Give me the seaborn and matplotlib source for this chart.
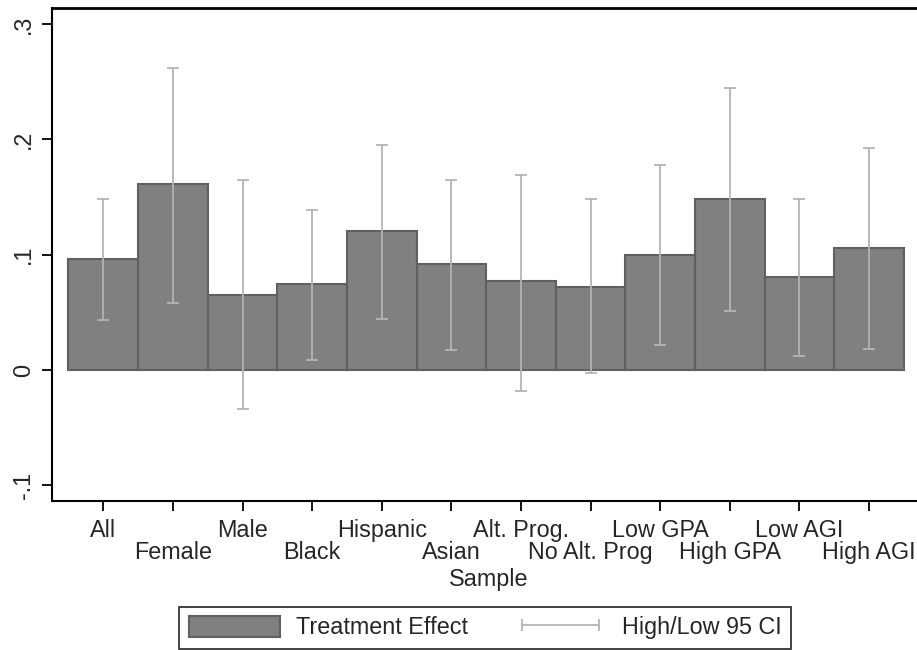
import matplotlib
matplotlib.use("Agg")
import matplotlib.pyplot as plt
import matplotlib.transforms as mtransforms
from matplotlib.patches import Patch
from matplotlib.lines import Line2D
import pandas as pd
import seaborn as sns

# values
groups = ["All", "Female", "Male", "Black", "Hispanic", "Asian",
          "Alt. Prog.", "No Alt. Prog", "Low GPA", "High GPA", "Low AGI", "High AGI"]
effect = [0.096, 0.161, 0.065, 0.075, 0.121, 0.092,
          0.077, 0.072, 0.100, 0.148, 0.081, 0.106]
ci_high = [0.148, 0.262, 0.165, 0.139, 0.195, 0.165,
           0.169, 0.148, 0.178, 0.245, 0.148, 0.193]
ci_low = [0.043, 0.058, -0.034, 0.009, 0.044, 0.017,
          -0.018, -0.003, 0.022, 0.051, 0.012, 0.018]
yticks = [-0.1, 0, 0.1, 0.2, 0.3]
ytick_labels = ["-.1", "0", ".1", ".2", ".3"]

df = pd.DataFrame({"group": groups, "effect": effect, "hi": ci_high, "lo": ci_low})

sns.set_theme(style="ticks")
plt.rcParams["font.family"] = ["Liberation Sans", "DejaVu Sans"]

bar_col = "#808080"
edge_col = "#606060"
ci_col = "#b4b4b4"
fs = 16.8

fig = plt.figure(figsize=(9.17, 6.5), dpi=100)
ax = fig.add_axes([52 / 917, (650 - 501) / 650, 1 - 52 / 917 + 0.01, (501 - 8) / 650])

sns.barplot(data=df, x="group", y="effect", color=bar_col, width=1.0,
            edgecolor=edge_col, linewidth=1.5, saturation=1, ax=ax)
for p in ax.patches:
    p.set_facecolor(bar_col)

pos = list(range(len(groups)))
mid = [(h + l) / 2 for h, l in zip(df["hi"], df["lo"])]
half = [(h - l) / 2 for h, l in zip(df["hi"], df["lo"])]
ax.errorbar(pos, mid, yerr=half, fmt="none", ecolor=ci_col, elinewidth=1.3,
            capsize=4, capthick=1.3, zorder=5)

ax.set_ylim(-0.1136, 0.314)
ax.set_xlim(-0.737, 11.82)
ax.set_yticks(yticks)
ax.set_yticklabels(ytick_labels, rotation=90, va="center", fontsize=fs)
ax.set_xticks(pos)
ax.set_xticklabels(groups, fontsize=fs)
ax.tick_params(axis="both", direction="out", length=7, width=1.3, color="black")
ax.tick_params(axis="x", pad=6)
ax.tick_params(axis="y", pad=5)

offset = mtransforms.ScaledTranslation(0, -22 / 100, fig.dpi_scale_trans)
for i, lab in enumerate(ax.get_xticklabels()):
    if i % 2 == 1:
        lab.set_transform(lab.get_transform() + offset)

ax.set_xlabel("Sample", fontsize=fs, labelpad=3)
ax.set_ylabel("")

for side in ["left", "bottom"]:
    ax.spines[side].set_color("black")
    ax.spines[side].set_linewidth(1.5)
ax.spines["top"].set_color("black")
ax.spines["top"].set_linewidth(2.0)
ax.spines["right"].set_visible(False)

handles = [
    Patch(facecolor=bar_col, edgecolor=edge_col, linewidth=1.5, label="Treatment Effect"),
    Line2D([0], [0], color=ci_col, lw=1.3, marker="|", markersize=8,
           markeredgewidth=1.3, label="High/Low 95 CI"),
]
leg = fig.legend(handles=handles, loc="lower center", bbox_to_anchor=(0.529, 0.002),
                 ncol=2, fontsize=fs, frameon=True, fancybox=False, borderaxespad=0,
                 handlelength=3.9, handleheight=1.0, numpoints=2, columnspacing=2.0,
                 handletextpad=0.7, borderpad=0.4)
leg.get_frame().set_edgecolor("black")
leg.get_frame().set_linewidth(1.3)

fig.savefig("out.png", dpi=100)
